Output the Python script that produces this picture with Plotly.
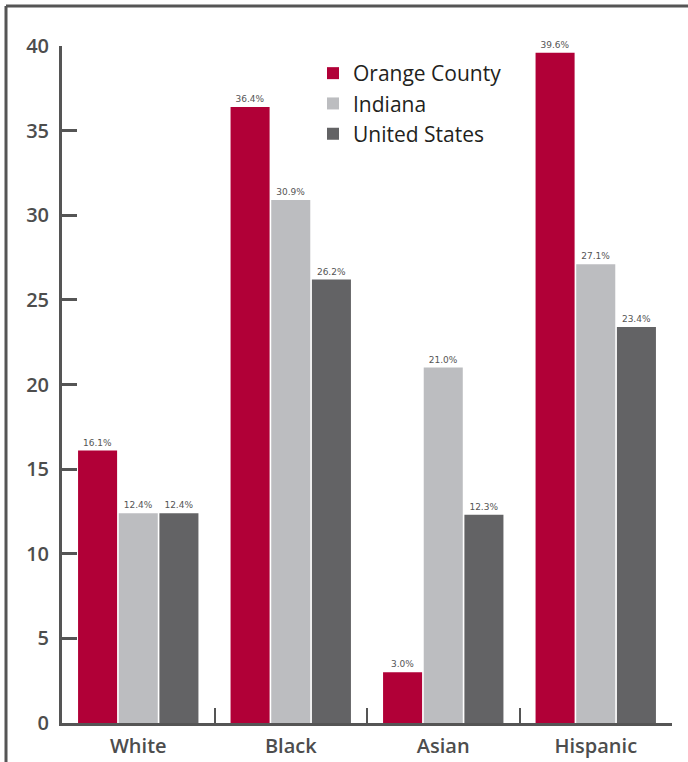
import plotly.graph_objects as go

categories = ["White", "Black", "Asian", "Hispanic"]
orange_county = [16.1, 36.4, 3.0, 39.6]
indiana = [12.4, 30.9, 21.0, 27.1]
united_states = [12.4, 26.2, 12.3, 23.4]
series_names = ["Orange County", "Indiana", "United States"]
colors = ["#B10037", "#BCBDC0", "#636365"]
y_ticks = [0, 5, 10, 15, 20, 25, 30, 35, 40]

fig = go.Figure()
for name, vals, col in zip(series_names, [orange_county, indiana, united_states], colors):
    fig.add_trace(go.Bar(
        x=categories, y=vals, name=name,
        marker=dict(color=col, line=dict(width=0)),
        text=[f"{v:.1f}%" for v in vals],
        textposition="outside",
        textfont=dict(family="DejaVu Sans", size=9, color="#555555"),
        cliponaxis=False,
    ))

W, H = 688, 762
ml, mr, mt, mb = 62, 16, 46, 39
pw = W - ml - mr
ph = H - mt - mb

tick_font = dict(family="Open Sans", size=20, color="#4D4D4D", weight=600)

fig.update_layout(
    width=W, height=H,
    margin=dict(l=ml, r=mr, t=mt, b=mb, autoexpand=False),
    paper_bgcolor="white", plot_bgcolor="white",
    barmode="group", bargap=0.2, bargroupgap=0.04,
    showlegend=True,
    legend=dict(
        x=(313 - ml) / pw, y=(723 - 53) / ph, xanchor="left", yanchor="top",
        font=dict(family="Open Sans", size=21, color="#231F20"),
        tracegroupgap=0, itemwidth=30, bgcolor="rgba(0,0,0,0)",
    ),
    xaxis=dict(
        showline=True, linewidth=3, linecolor="#555555",
        ticks="inside", tickson="boundaries", ticklen=15, tickwidth=2, tickcolor="#555555",
        tickfont=tick_font, ticklabelstandoff=3, automargin=False,
        showgrid=False, zeroline=False,
    ),
    yaxis=dict(
        range=[0, 40], tickvals=y_ticks,
        showline=True, linewidth=3, linecolor="#555555",
        ticks="inside", ticklen=15, tickwidth=3, tickcolor="#555555",
        tickfont=tick_font, automargin=False,
        ticklabelstandoff=6,
        showgrid=False, zeroline=False,
    ),
    font=dict(family="Open Sans"),
)

# outer frame (top and left edges)
top_y = (H - mb - 6) / ph
left_x = (6 - ml) / pw
fig.add_shape(type="line", xref="paper", yref="paper", x0=left_x, x1=(W - ml) / pw,
              y0=top_y, y1=top_y, line=dict(color="#555555", width=3))
fig.add_shape(type="line", xref="paper", yref="paper", x0=left_x, x1=left_x,
              y0=top_y, y1=-mb / ph - 0.01, line=dict(color="#555555", width=3))

fig.write_html("out.html")
